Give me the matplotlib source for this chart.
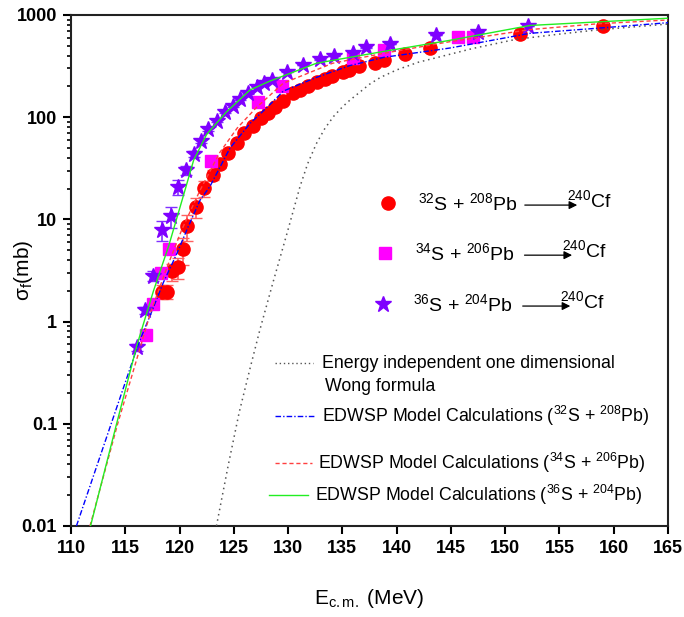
import numpy as np
import matplotlib
matplotlib.use("Agg")
import matplotlib.pyplot as plt

plt.rcParams['font.family'] = ['Liberation Sans', 'DejaVu Sans']
plt.rcParams['mathtext.fontset'] = 'custom'
plt.rcParams['mathtext.rm'] = 'Liberation Sans'
plt.rcParams['mathtext.it'] = 'Liberation Sans:italic'

# experimental data: 32S + 208Pb
e_32 = [118.36, 118.82, 119.28, 119.83, 120.35, 120.71, 121.49, 122.28, 123.05, 123.73,
        124.43, 125.26, 125.97, 126.74, 127.5, 128.18, 128.79, 129.5, 130.48, 131.1,
        131.86, 132.63, 133.4, 134.0, 135.09, 135.64, 136.5, 138.0, 138.8, 140.8,
        143.1, 151.4, 159.0]
s_32 = [1.96, 1.96, 3.1, 3.4, 5.1, 8.6, 13.3, 20.1, 27.2, 34.8,
        44.4, 56.4, 69.6, 82, 97.6, 111, 127, 145, 171, 185,
        202, 223, 235, 253, 279, 290, 315, 338, 362, 411,
        475, 647, 781]
err_32 = [0.3, 0.3, 0.6, 0.8, 1.5, 2.5, 3.0, 3.5, 3, 3,
          3, 3, 3, 3, 3, 3, 3, 3, 3, 3,
          3, 3, 3, 3, 3, 3, 3, 3, 3, 3,
          3, 3, 3]

# experimental data: 34S + 206Pb
e_34 = [116.91, 117.53, 118.26, 119.06, 122.87, 127.26, 129.41, 136.0, 138.8, 145.62, 147.06]
s_34 = [0.74, 1.48, 2.97, 5.13, 37.5, 140, 202, 380, 450, 605, 614]

# experimental data: 36S + 204Pb
e_36 = [116.08, 116.82, 117.55, 118.38, 119.18, 119.83, 120.59, 121.33, 121.95, 122.62,
        123.42, 124.19, 124.95, 125.57, 126.31, 127.11, 127.78, 128.49, 129.87, 131.35,
        132.94, 134.23, 135.95, 137.18, 139.39, 143.63, 147.47, 152.13]
s_36 = [0.56, 1.30, 2.8, 7.9, 10.8, 20.9, 30.4, 43.4, 58.5, 76.2,
        92.5, 113, 130, 150, 171, 199, 218, 231, 279, 324,
        369, 397, 428, 481, 518, 637, 677, 781]
err_36 = [0.05, 0.1, 0.3, 1.8, 2.5, 3.5, 3, 3, 3, 3,
          3, 3, 3, 3, 3, 3, 3, 3, 3, 3,
          3, 3, 3, 3, 3, 3, 3, 3]

# Wong formula (energy independent)
e_wong = [123.4, 124.5, 125.5, 126.5, 127.4, 128.6, 129.9, 131.1, 131.8, 132.6,
          133.4, 134.2, 135.0, 135.7, 136.5, 137.5, 138.5, 140.0, 142.0, 144.0,
          147.0, 151.0, 155.0, 158.4, 165.0]
s_wong = [0.01, 0.04, 0.13, 0.35, 0.83, 2.4, 7.3, 21, 35, 55,
          78, 102, 126, 147, 172, 210, 245, 290, 345, 390,
          470, 578, 650, 713, 816]

# EDWSP 32S + 208Pb
e_ed32 = [110.5, 113.7, 116.2, 117.5, 118.5, 119.74, 120.8, 121.9,
          122.8, 124.65, 126.5, 128.3, 129.56, 132.6, 135.7, 138.8, 144.9, 152.3,
          158.4, 165.0]
s_ed32 = [0.01, 0.1, 0.6, 1.3, 2.4, 4.6, 8.5, 15.5,
          21, 50, 87, 132, 180, 245, 320, 385, 475, 662,
          741, 841]

# EDWSP 34S + 206Pb
e_ed34 = [111.75, 114.3, 117.3, 118.8, 120.2, 121.9, 123.7, 125.3, 127.1,
          129.56, 134.1, 138.8, 144.9, 152.3, 158.5, 165.0]
s_ed34 = [0.01, 0.1, 1.2, 3.3, 7.9, 19.4, 45, 78, 125,
          215, 337, 422, 548, 720, 820, 894]

# EDWSP 36S + 204Pb
e_ed36 = [111.8, 114.2, 116.1, 117.6, 119.0, 120.35, 121.3, 122.5, 124.3,
          126.5, 128.3, 132.6, 138.8, 144.9, 152.3, 165.0]
s_ed36 = [0.01, 0.1, 0.6, 2.0, 5.5, 17, 38, 68, 112,
          185, 225, 337, 440, 565, 790, 930]

xticks = list(range(110, 166, 5))
yticks = [0.01, 0.1, 1, 10, 100, 1000]
ytick_labels = ['0.01', '0.1', '1', '10', '100', '1000']

fig = plt.figure(figsize=(6.84, 6.17), dpi=100)
ax = fig.add_axes([0.1038, 0.1475, 0.8728, 0.8282])

# model curves
ax.plot(e_wong, s_wong, color='#555555', ls=(0, (1, 2.5)), lw=1.1, zorder=4)
ax.plot(e_ed32, s_ed32, color='#0000ff', ls=(0, (4, 1.5, 1, 1.5)), lw=1.0, zorder=4)
ax.plot(e_ed34, s_ed34, color='#ff4040', ls=(0, (3, 2)), lw=1.0, zorder=4)
ax.plot(e_ed36, s_ed36, color='#22ee22', ls='-', lw=1.0, zorder=4)

# data
ax.errorbar(e_32, s_32, yerr=err_32, fmt='none', ecolor='#ff6060', elinewidth=1.2, capsize=4, zorder=2)
ax.plot(e_32, s_32, 'o', color='#ff0000', ms=9.5, mec='#ff0000', zorder=3)
ax.plot(e_34, s_34, 's', color='#ff00ff', ms=8, mec='#ff00ff', zorder=3)
ax.errorbar(e_36, s_36, yerr=err_36, fmt='none', ecolor='#8030ff', elinewidth=1.2, capsize=4, zorder=2)
ax.plot(e_36, s_36, '*', color='#7f00ff', ms=12, mec='#7f00ff', zorder=3)

ax.set_yscale('log')
ax.set_xlim(110, 165)
ax.set_ylim(0.01, 1000)
ax.set_xticks(xticks)
ax.set_xticklabels([str(t) for t in xticks], fontsize=13, fontweight='bold')
ax.set_yticks(yticks)
ax.set_yticklabels(ytick_labels, fontsize=13, fontweight='bold')
ax.tick_params(axis='both', which='major', direction='out', length=6, width=1.5, pad=4)
ax.tick_params(axis='y', which='minor', direction='out', length=3, width=1.2)
ax.tick_params(top=False, right=False)
for sp in ax.spines.values():
    sp.set_linewidth(1.5)
    sp.set_color('#222222')

ax.set_xlabel('E$_{\\mathregular{c.m.}}$ (MeV)', fontsize=15, labelpad=22)
ax.set_ylabel('σ$_{\\mathregular{f}}$(mb)', fontsize=15)
ax.yaxis.set_label_coords(-0.06, 0.5)

# upper legend (markers + reaction text)
leg_marks = ['o', 's', '*']
leg_cols = ['#ff0000', '#ff00ff', '#7f00ff']
leg_ms = [9.5, 8, 12]
leg_labels = ['$^{32}$S + $^{208}$Pb', '$^{34}$S + $^{206}$Pb', '$^{36}$S + $^{204}$Pb']
leg_y = [0.632, 0.534, 0.4344]
leg_xm = [0.531, 0.526, 0.5226]
leg_xt = [0.581, 0.576, 0.573]
leg_xa = [(0.7555, 0.8526), (0.755, 0.844), (0.752, 0.841)]
for mk, col, ms, lab, yy, xm, xt, (xa0, xa1) in zip(leg_marks, leg_cols, leg_ms, leg_labels,
                                                      leg_y, leg_xm, leg_xt, leg_xa):
    ax.plot([xm], [yy], mk, color=col, ms=ms, transform=ax.transAxes, clip_on=False)
    ax.text(xt, yy, lab, transform=ax.transAxes, fontsize=14, va='center', ha='left')
    ax.annotate('', xy=(xa1, yy - 0.004), xytext=(xa0, yy - 0.004),
                xycoords='axes fraction',
                arrowprops=dict(arrowstyle='-|>', color='black', lw=0.9, mutation_scale=12))
    ax.text(xa1 - 0.022, yy + 0.006, '$^{240}$Cf', transform=ax.transAxes, fontsize=14,
            va='center', ha='left')

# lower legend (model curves)
fs = 12.8
ax.plot([0.3417, 0.4059], [0.3184, 0.3184], color='#555555', ls=(0, (1, 2)), lw=1.0, transform=ax.transAxes)
ax.text(0.420, 0.3184, 'Energy independent one dimensional', transform=ax.transAxes, fontsize=fs, va='center')
ax.text(0.4255, 0.2726, 'Wong formula', transform=ax.transAxes, fontsize=fs, va='center')
ax.plot([0.3417, 0.4087], [0.2153, 0.2153], color='#0000ff', ls=(0, (4, 1.5, 1, 1.5)), lw=1.0, transform=ax.transAxes)
ax.text(0.420, 0.2153, 'EDWSP Model Calculations ($^{32}$S + $^{208}$Pb)', transform=ax.transAxes, fontsize=fs, va='center')
ax.plot([0.3417, 0.4032], [0.1227, 0.1227], color='#ff4040', ls=(0, (3, 2)), lw=1.0, transform=ax.transAxes)
ax.text(0.4142, 0.1227, 'EDWSP Model Calculations ($^{34}$S + $^{206}$Pb)', transform=ax.transAxes, fontsize=fs, va='center')
ax.plot([0.3322, 0.3975], [0.0607, 0.0607], color='#22ee22', ls='-', lw=1.0, transform=ax.transAxes)
ax.text(0.4087, 0.0607, 'EDWSP Model Calculations ($^{36}$S + $^{204}$Pb)', transform=ax.transAxes, fontsize=fs, va='center')

fig.savefig('out.png', dpi=100)
